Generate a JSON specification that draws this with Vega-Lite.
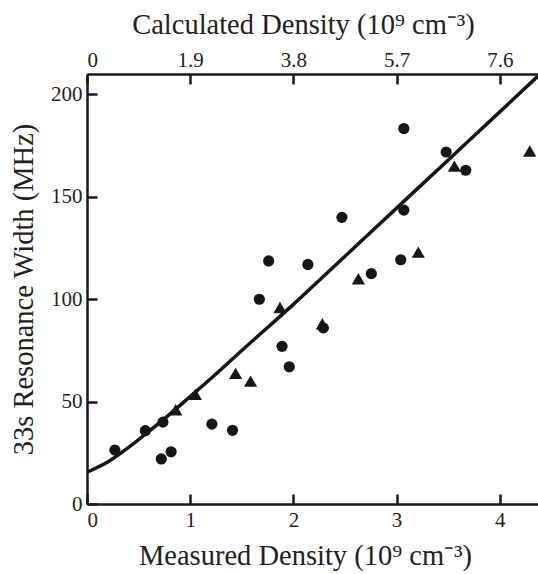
{
  "$schema": "https://vega.github.io/schema/vega-lite/v6.json",
  "width": 451,
  "height": 430,
  "autosize": {"type": "none"},
  "padding": {"left": 87, "top": 74, "right": 0, "bottom": 70},
  "background": "white",
  "config": {
    "view": {"stroke": null},
    "axis": {
      "domainColor": "#1a1a1a",
      "domainWidth": 2.5,
      "tickColor": "#1a1a1a",
      "tickWidth": 2.5,
      "tickSize": -10,
      "grid": false,
      "labelFont": "Liberation Serif",
      "labelFontSize": 21,
      "labelColor": "#222",
      "titleFont": "Liberation Serif",
      "titleFontSize": 28.5,
      "titleFontWeight": "normal",
      "titleColor": "#222"
    }
  },
  "datasets": {
    "curve": [
      {"m": 0, "w": 15.5},
      {"m": 0.2, "w": 20.5},
      {"m": 0.4, "w": 27.5},
      {"m": 0.6, "w": 35.5},
      {"m": 0.8, "w": 43.8},
      {"m": 1.0, "w": 52.5},
      {"m": 1.25, "w": 63.5},
      {"m": 1.5, "w": 75},
      {"m": 2.0, "w": 97.5},
      {"m": 2.5, "w": 121},
      {"m": 3.0, "w": 144.5},
      {"m": 3.5, "w": 168},
      {"m": 4.0, "w": 191.5},
      {"m": 4.37, "w": 209}
    ],
    "points": [
      {"m": 0.27, "w": 26.3, "s": "circle"},
      {"m": 0.565, "w": 35.8, "s": "circle"},
      {"m": 0.736, "w": 40, "s": "circle"},
      {"m": 0.72, "w": 22, "s": "circle"},
      {"m": 0.815, "w": 25.5, "s": "circle"},
      {"m": 1.21, "w": 39, "s": "circle"},
      {"m": 1.41, "w": 36, "s": "circle"},
      {"m": 1.67, "w": 100, "s": "circle"},
      {"m": 1.76, "w": 118.7, "s": "circle"},
      {"m": 1.89, "w": 77, "s": "circle"},
      {"m": 1.96, "w": 67, "s": "circle"},
      {"m": 2.14, "w": 117, "s": "circle"},
      {"m": 2.29, "w": 86, "s": "circle"},
      {"m": 2.47, "w": 140, "s": "circle"},
      {"m": 2.755, "w": 112.5, "s": "circle"},
      {"m": 3.04, "w": 119.3, "s": "circle"},
      {"m": 3.07, "w": 143.5, "s": "circle"},
      {"m": 3.07, "w": 183.4, "s": "circle"},
      {"m": 3.48, "w": 171.9, "s": "circle"},
      {"m": 3.67, "w": 163, "s": "circle"},
      {"m": 0.86, "w": 46, "s": "triangle"},
      {"m": 1.05, "w": 53.6, "s": "triangle"},
      {"m": 1.44, "w": 63.8, "s": "triangle"},
      {"m": 1.585, "w": 60, "s": "triangle"},
      {"m": 1.87, "w": 96, "s": "triangle"},
      {"m": 2.28, "w": 88, "s": "triangle"},
      {"m": 2.63, "w": 110, "s": "triangle"},
      {"m": 3.21, "w": 123, "s": "triangle"},
      {"m": 3.56, "w": 165, "s": "triangle"},
      {"m": 4.29, "w": 172.4, "s": "triangle"}
    ]
  },
  "resolve": {"axis": {"x": "independent"}},
  "layer": [
    {
      "data": {"name": "curve"},
      "mark": {"type": "line", "interpolate": "monotone", "color": "#161616", "strokeWidth": 3.5, "clip": true},
      "encoding": {
        "x": {
          "field": "m", "type": "quantitative",
          "scale": {"domain": [0, 4.37], "nice": false, "zero": false},
          "axis": {
            "orient": "bottom",
            "values": [0, 1, 2, 3, 4],
            "title": "Measured Density (10⁹ cm⁻³)",
            "labelPadding": 15,
            "titlePadding": 11,
            "titleX": 218
          }
        },
        "y": {
          "field": "w", "type": "quantitative",
          "scale": {"domain": [0, 210], "nice": false, "zero": false},
          "axis": {
            "values": [0, 50, 100, 150, 200],
            "title": "33s Resonance Width (MHz)",
            "labelPadding": 15,
            "titlePadding": 12
          }
        }
      }
    },
    {
      "data": {"name": "points"},
      "mark": {"type": "point", "filled": true, "opacity": 1, "color": "#161616"},
      "encoding": {
        "x": {
          "field": "m", "type": "quantitative",
          "axis": {
            "orient": "top",
            "values": [0, 1, 2, 3, 4],
            "labelExpr": "datum.value == 0 ? '0' : format(datum.value * 1.9, '.1f')",
            "title": "Calculated Density (10⁹ cm⁻³)",
            "labelPadding": 14,
            "titlePadding": 10,
            "titleX": 216
          }
        },
        "y": {"field": "w", "type": "quantitative"},
        "shape": {
          "field": "s", "type": "nominal",
          "scale": {"domain": ["circle", "triangle"], "range": ["circle", "triangle-up"]},
          "legend": null
        },
        "size": {
          "field": "s", "type": "nominal",
          "scale": {"domain": ["circle", "triangle"], "range": [125, 175]},
          "legend": null
        }
      }
    }
  ]
}
